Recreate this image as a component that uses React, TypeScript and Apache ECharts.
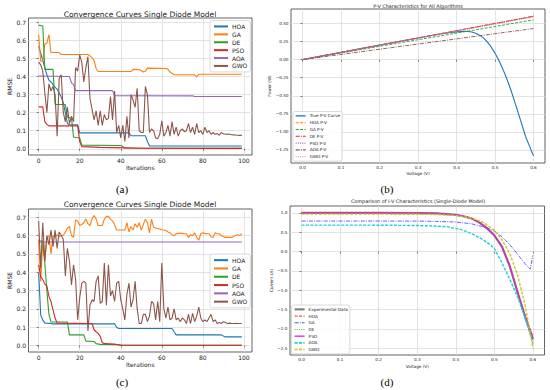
import React, { useEffect, useRef } from 'react';
import * as echarts from 'echarts';

// ---------- tick labels ----------
const ITER_TICKS = [0, 20, 40, 60, 80, 100];
const RMSE_TICKS = [0, 0.1, 0.2, 0.3, 0.4, 0.5, 0.6, 0.7];
const V_TICKS = [0, 0.1, 0.2, 0.3, 0.4, 0.5, 0.6];
const PV_TICKS = [-1.25, -1, -0.75, -0.5, -0.25, 0, 0.25, 0.5];
const IV_TICKS = [-2.5, -2, -1.5, -1, -0.5, 0, 0.5, 1];

const ALGOS = ['HOA', 'GA', 'DE', 'PSO', 'AOA', 'GWO'];
const PV_NAMES = ['True P-V Curve', 'HOA P-V', 'GA P-V', 'DE P-V', 'PSO P-V', 'AOA P-V', 'GWO P-V'];
const IV_NAMES = ['Experimental Data', 'HOA', 'GA', 'DE', 'PSO', 'AOA', 'GWO'];

// ---------- (a) convergence, [iteration, RMSE] ----------
const HOA_A = [[0, 0.567], [1, 0.53], [2, 0.49], [3, 0.45], [4, 0.41], [5, 0.38], [6, 0.37], [7, 0.355], [8, 0.34], [9, 0.33], [10, 0.31], [11, 0.285], [12, 0.255], [13, 0.2], [14, 0.14], [15, 0.133], [19, 0.133], [20, 0.088], [44, 0.088], [45, 0.072], [52, 0.072], [53, 0.04], [54, 0.015], [99, 0.015]];
const GA_A = [[0, 0.632], [1, 0.485], [2, 0.485], [3, 0.58], [4, 0.585], [5, 0.632], [6, 0.533], [10, 0.533], [11, 0.522], [24, 0.522], [25, 0.515], [26, 0.505], [27, 0.49], [28, 0.445], [29, 0.428], [45, 0.428], [46, 0.44], [49, 0.438], [50, 0.432], [51, 0.425], [52, 0.43], [53, 0.447], [62, 0.445], [63, 0.44], [64, 0.425], [66, 0.41], [76, 0.41], [77, 0.398], [78, 0.413], [99, 0.413]];
const DE_A = [[0, 0.685], [2, 0.68], [3, 0.44], [7, 0.44], [8, 0.245], [13, 0.245], [14, 0.175], [16, 0.17], [17, 0.065], [20, 0.06], [21, 0.02], [40, 0.018], [41, 0.012], [42, 0.004], [99, 0.003]];
const PSO_A = [[0, 0.232], [2, 0.232], [3, 0.15], [4, 0.135], [5, 0.127], [19, 0.127], [20, 0.04], [21, 0.012], [30, 0.008], [42, 0.005], [50, 0.003], [99, 0.002]];
const AOA_A = [[0, 0.403], [15, 0.4], [16, 0.365], [17, 0.355], [18, 0.322], [36, 0.322], [37, 0.294], [75, 0.293], [76, 0.29], [99, 0.29]];
const GWO_A = [
  0.48, 0.465, 0.43, 0.31, 0.2, 0.36, 0.32, 0.345, 0.3, 0.07,
  0.39, 0.41, 0.2, 0.15, 0.23, 0.14, 0.18, 0.15, 0.45, 0.43,
  0.52, 0.48, 0.37, 0.45, 0.51, 0.28, 0.22, 0.16, 0.21, 0.13,
  0.21, 0.13, 0.19, 0.16, 0.17, 0.29, 0.16, 0.32, 0.09, 0.13,
  0.06, 0.13, 0.04, 0.18, 0.06, 0.3, 0.27, 0.23, 0.335, 0.1,
  0.09, 0.09, 0.345, 0.3, 0.09, 0.11, 0.1, 0.06, 0.055, 0.08,
  0.155, 0.07, 0.09, 0.13, 0.07, 0.15, 0.08, 0.12, 0.07, 0.1,
  0.11, 0.095, 0.1, 0.14, 0.09, 0.12, 0.08, 0.14, 0.09, 0.1,
  0.08, 0.12, 0.09, 0.1, 0.08, 0.09, 0.08, 0.085, 0.075, 0.09,
  0.083, 0.08, 0.082, 0.08, 0.078, 0.077, 0.076, 0.075, 0.074, 0.074,
];

// ---------- (c) convergence ----------
const HOA_C = [[0, 0.396], [1, 0.165], [2, 0.14], [3, 0.122], [6, 0.12], [7, 0.118], [37, 0.118], [38, 0.1], [39, 0.093], [65, 0.093], [66, 0.075], [67, 0.058], [89, 0.058], [90, 0.052], [91, 0.047], [99, 0.047]];
const GA_C = [
  0.578, 0.35, 0.56, 0.46, 0.59, 0.6, 0.5, 0.6, 0.59, 0.605,
  0.595, 0.6, 0.6, 0.62, 0.64, 0.65, 0.6, 0.59, 0.685, 0.68,
  0.655, 0.66, 0.67, 0.69, 0.665, 0.655, 0.69, 0.71, 0.69, 0.655,
  0.655, 0.655, 0.69, 0.705, 0.705, 0.69, 0.68, 0.66, 0.63, 0.63,
  0.63, 0.63, 0.63, 0.67, 0.62, 0.65, 0.63, 0.665, 0.645, 0.67,
  0.63, 0.66, 0.69, 0.67, 0.615, 0.69, 0.645, 0.64, 0.64, 0.635,
  0.632, 0.63, 0.628, 0.62, 0.615, 0.605, 0.6, 0.61, 0.612, 0.612,
  0.612, 0.61, 0.61, 0.59, 0.605, 0.6, 0.615, 0.59, 0.575, 0.61,
  0.615, 0.612, 0.61, 0.61, 0.595, 0.59, 0.615, 0.61, 0.61, 0.6,
  0.595, 0.59, 0.59, 0.59, 0.59, 0.595, 0.6, 0.605, 0.6, 0.61,
];
const DE_C = [[0, 0.57], [2, 0.57], [3, 0.45], [4, 0.3], [5, 0.17], [6, 0.128], [14, 0.128], [15, 0.058], [22, 0.058], [23, 0.024], [27, 0.022], [28, 0.01], [30, 0.006], [38, 0.005], [40, 0.002], [99, 0.001]];
const PSO_C = [[0, 0.44], [1, 0.375], [2, 0.36], [3, 0.335], [4, 0.325], [5, 0.268], [6, 0.24], [7, 0.195], [8, 0.15], [9, 0.122], [26, 0.12], [27, 0.086], [28, 0.075], [29, 0.066], [30, 0.05], [31, 0.015], [32, 0.01], [37, 0.008], [38, 0.005], [40, 0.002], [99, 0.001]];
const AOA_C = [[0, 0.565], [99, 0.565]];
const GWO_C = [
  0.68, 0.42, 0.67, 0.46, 0.6, 0.55, 0.63, 0.54, 0.63, 0.53,
  0.62, 0.6, 0.58, 0.38, 0.53, 0.46, 0.33, 0.44, 0.36, 0.14,
  0.26, 0.34, 0.35, 0.34, 0.08, 0.22, 0.25, 0.24, 0.35, 0.38,
  0.23, 0.24, 0.45, 0.22, 0.44, 0.27, 0.3, 0.24, 0.34, 0.35,
  0.25, 0.2, 0.14, 0.28, 0.34, 0.21, 0.25, 0.35, 0.2, 0.12,
  0.12, 0.17, 0.17, 0.13, 0.16, 0.24, 0.23, 0.14, 0.24, 0.13,
  0.45, 0.2, 0.15, 0.21, 0.14, 0.15, 0.2, 0.14, 0.15, 0.13,
  0.15, 0.14, 0.12, 0.17, 0.12, 0.175, 0.13, 0.16, 0.21, 0.15,
  0.13, 0.14, 0.13, 0.15, 0.17, 0.13, 0.14, 0.12, 0.125, 0.12,
  0.13, 0.125, 0.12, 0.122, 0.12, 0.12, 0.121, 0.12, 0.12, 0.12,
];

// ---------- (b) P-V, [voltage, power] ----------
const TRUE_PV = [[0, 0], [0.1, 0.1], [0.2, 0.2], [0.3, 0.299], [0.35, 0.347], [0.38, 0.372], [0.4, 0.384], [0.42, 0.39], [0.43, 0.389], [0.44, 0.382], [0.45, 0.365], [0.46, 0.338], [0.47, 0.3], [0.48, 0.245], [0.49, 0.175], [0.5, 0.09], [0.51, -0.01], [0.52, -0.125], [0.53, -0.255], [0.54, -0.4], [0.55, -0.56], [0.56, -0.73], [0.57, -0.9], [0.58, -1.07], [0.59, -1.2], [0.6, -1.33]];
const HOA_PV = [[0, 0], [0.6, 0.6]];
const GA_PV = [[0, 0], [0.6, 0.55]];
const DE_PV = [[0, 0], [0.6, 0.6]];
const PSO_PV = [[0, 0], [0.6, 0.595]];
const AOA_PV = [[0, 0], [0.6, 0.43]];
const GWO_PV = [[0, 0], [0.6, 0.59]];

// ---------- (d) I-V, [voltage, current] ----------
const EXP_IV = [[0, 1.0], [0.1, 1.0], [0.2, 1.0], [0.3, 0.998], [0.35, 0.99], [0.4, 0.95], [0.42, 0.915], [0.44, 0.86], [0.46, 0.76], [0.48, 0.61], [0.5, 0.42], [0.52, 0.12], [0.54, -0.38], [0.56, -1.05], [0.58, -1.7], [0.6, -2.27]];
const HOA_IV = [[0, 1.0], [0.1, 1.0], [0.2, 1.0], [0.3, 0.998], [0.35, 0.99], [0.4, 0.95], [0.42, 0.915], [0.44, 0.86], [0.46, 0.76], [0.48, 0.61], [0.5, 0.42], [0.52, 0.13], [0.54, -0.36], [0.56, -1.02], [0.58, -1.66], [0.6, -2.2]];
const GA_IV = [[0, 0.79], [0.1, 0.79], [0.2, 0.79], [0.3, 0.788], [0.35, 0.782], [0.4, 0.765], [0.44, 0.72], [0.48, 0.62], [0.5, 0.53], [0.52, 0.38], [0.54, 0.18], [0.56, -0.07], [0.58, -0.32], [0.59, -0.43], [0.593, -0.45], [0.6, -0.1]];
const DE_IV = [[0, 1.0], [0.1, 1.0], [0.2, 1.0], [0.3, 0.998], [0.35, 0.99], [0.4, 0.95], [0.42, 0.915], [0.44, 0.86], [0.46, 0.76], [0.48, 0.61], [0.5, 0.42], [0.52, 0.11], [0.54, -0.4], [0.56, -1.07], [0.58, -1.73], [0.6, -2.3]];
const PSO_IV = [[0, 1.005], [0.1, 1.005], [0.2, 1.003], [0.3, 1.0], [0.35, 0.99], [0.4, 0.952], [0.42, 0.915], [0.44, 0.86], [0.46, 0.76], [0.48, 0.61], [0.5, 0.42], [0.52, 0.12], [0.54, -0.38], [0.56, -1.04], [0.58, -1.68], [0.6, -2.25]];
const AOA_IV = [[0, 0.685], [0.1, 0.685], [0.2, 0.683], [0.3, 0.675], [0.35, 0.66], [0.38, 0.635], [0.41, 0.58], [0.43, 0.51], [0.45, 0.42], [0.47, 0.31], [0.49, 0.17], [0.5, 0.08], [0.52, -0.3], [0.54, -0.72], [0.56, -1.17], [0.58, -1.72], [0.6, -2.38]];
const GWO_IV = [[0, 0.97], [0.1, 0.97], [0.2, 0.97], [0.3, 0.965], [0.35, 0.96], [0.4, 0.935], [0.44, 0.87], [0.47, 0.76], [0.5, 0.55], [0.52, 0.3], [0.54, -0.05], [0.56, -0.6], [0.58, -1.4], [0.6, -2.5]];

const FONT = 'DejaVu Sans';
const MINUS = '\u2212';
const fmt = (d: number) => (v: number) => (v < 0 ? MINUS + Math.abs(v).toFixed(d) : v.toFixed(d));

function axis(gridIndex: number, min: number, max: number, ticks: number[], f: any, fs: number, name: string, gap: number) {
  return {
    type: 'value', gridIndex, min, max,
    axisLine: { show: false },
    axisTick: { show: true, length: 2, customValues: ticks, lineStyle: { color: '#333', width: 0.6 } },
    axisLabel: { customValues: ticks, formatter: f, fontSize: fs, color: '#222', margin: 2.5, fontFamily: FONT, showMinLabel: true, showMaxLabel: true },
    splitLine: { show: true, lineStyle: { color: '#dcdcdc', width: 0.8 } },
    name, nameLocation: 'middle', nameGap: gap,
    nameTextStyle: { fontSize: fs, color: '#222', fontFamily: FONT },
  };
}

const DASH = [3, 1.4];
const DASHDOT = [4, 1.2, 1, 1.2];
const DOT = [1, 1.2];

// series style table: name -> [color, width, dash, opacity]
type Sty = [string, number, any, number];
const STY_PV: Record<string, Sty> = {
  'True P-V Curve': ['#1f77b4', 1.1, 'solid', 1],
  'HOA P-V': ['#ff7f0e', 0.9, DASH, 1],
  'GA P-V': ['#2ca02c', 0.9, DASH, 1],
  'DE P-V': ['#d62728', 0.9, DASHDOT, 1],
  'PSO P-V': ['#9467bd', 0.9, DOT, 1],
  'AOA P-V': ['#8c564b', 0.9, DASHDOT, 1],
  'GWO P-V': ['#e377c2', 0.9, DOT, 1],
};
const STY_IV: Record<string, Sty> = {
  'Experimental Data': ['#666666', 2.2, 'solid', 0.8],
  HOA: ['#ff3030', 1, DASH, 0.8],
  GA: ['#3030ff', 0.9, DASHDOT, 0.85],
  DE: ['#30a030', 0.9, DOT, 0.8],
  PSO: ['#e020d0', 1.1, 'solid', 1],
  AOA: ['#20d0d0', 1.4, DASH, 1],
  GWO: ['#c8c820', 1.4, DASH, 1],
};

function line(name: string, data: any[], idx: number, color: string, width: number, type: any, opacity = 1) {
  return {
    type: 'line', name, data, xAxisIndex: idx, yAxisIndex: idx,
    symbol: 'none', showSymbol: false, silent: true,
    lineStyle: { color, width, type, opacity },
    itemStyle: { color, opacity },
    emphasis: { disabled: true },
  };
}

function legend(names: any[], left: number, top: number, fs: number, lh: number, iw: number, pad: number[], strip?: string) {
  return {
    data: names, orient: 'vertical', left, top, padding: pad,
    itemWidth: iw, itemHeight: lh, itemGap: 0, selectedMode: false,
    itemStyle: { color: 'rgba(0,0,0,0)', opacity: 0, borderWidth: 0 },
    textStyle: { fontSize: fs, lineHeight: lh, color: '#222', fontFamily: FONT, padding: [0, 0, 0, -1] },
    formatter: strip ? (n: string) => n.replace(strip, '') : undefined,
    backgroundColor: 'rgba(255,255,255,0.85)', borderColor: '#d0d0d0', borderWidth: 0.8, borderRadius: 2,
  };
}

function txt(text: string, x: number, y: number, fs: number, family = FONT, color = '#222') {
  return {
    type: 'text', x, y, silent: true,
    style: { text, fontSize: fs, fontFamily: family, fill: color, align: 'center', verticalAlign: 'middle', textAlign: 'center', textVerticalAlign: 'middle' },
  };
}

export default function App() {
  const ref = useRef<HTMLDivElement>(null);
  useEffect(() => {
    if (!ref.current) return;
    const chart = echarts.init(ref.current, undefined, { renderer: 'svg' });
    const idx = (arr: number[]) => arr.map((v, i) => [i, v]);
    const legItem = (name: string, s: Sty, prefix = '') => ({
      name: prefix + name,
      lineStyle: { color: s[0], width: Math.min(s[1] + 0.2, 2.2), type: s[2], opacity: s[3] },
    });
    const pvLine = (name: string, data: any[]) => { const s = STY_PV[name]; return line(name, data, 1, s[0], s[1], s[2], s[3]); };
    const ivLine = (name: string, data: any[]) => { const s = STY_IV[name]; return line(name === 'Experimental Data' ? name : 'd:' + name, data, 3, s[0], s[1], s[2], s[3]); };
    const gridBase = { show: true, borderColor: '#3a3a3a', borderWidth: 0.8, backgroundColor: '#fff', containLabel: false, outerBoundsMode: 'none' };
    const option: any = {
      animation: false,
      backgroundColor: '#fff',
      grid: [
        { ...gridBase, left: 28.5, top: 18, width: 223.5, height: 137 },
        { ...gridBase, left: 291, top: 9, width: 254, height: 154 },
        { ...gridBase, left: 28.5, top: 209, width: 223.5, height: 143 },
        { ...gridBase, left: 290, top: 206, width: 254.5, height: 149 },
      ],
      xAxis: [
        axis(0, -4.95, 103.95, ITER_TICKS, (v: number) => String(v), 6, 'Iterations', 9),
        axis(1, -0.03, 0.63, V_TICKS, fmt(1), 4.2, 'Voltage (V)', 8),
        axis(2, -4.95, 103.95, ITER_TICKS, (v: number) => String(v), 6, 'Iterations', 9),
        axis(3, -0.03, 0.63, V_TICKS, fmt(1), 4.2, 'Voltage (V)', 9),
      ],
      yAxis: [
        axis(0, -0.0345, 0.7245, RMSE_TICKS, fmt(1), 6, 'RMSE', 15),
        axis(1, -1.43, 0.70, PV_TICKS, fmt(2), 4.2, 'Power (W)', 16),
        axis(2, -0.0355, 0.745, RMSE_TICKS, fmt(1), 6, 'RMSE', 15),
        axis(3, -2.68, 1.18, IV_TICKS, fmt(1), 4.2, 'Current (A)', 13),
      ],
      legend: [
        legend(ALGOS, 210, 20.5, 6, 7.9, 14, [2, 3, 2, 3]),
        legend(PV_NAMES.map((n) => legItem(n, STY_PV[n])), 293, 111.5, 4.2, 6.8, 10, [1, 2, 1, 2]),
        legend(ALGOS.map((n) => 'c:' + n), 210, 254, 6, 8.3, 14, [2, 3, 2, 3], 'c:'),
        legend(IV_NAMES.map((n) => legItem(n, STY_IV[n], n === 'Experimental Data' ? '' : 'd:')), 291.5, 305, 4.2, 6.7, 10, [1, 2, 1, 2], 'd:'),
      ],
      series: [
        line('HOA', HOA_A, 0, '#1f77b4', 1.1, 'solid'),
        line('GA', GA_A, 0, '#ff7f0e', 1.1, 'solid'),
        line('DE', DE_A, 0, '#2ca02c', 1.1, 'solid'),
        line('PSO', PSO_A, 0, '#d62728', 1.1, 'solid'),
        line('AOA', AOA_A, 0, '#9467bd', 1.1, 'solid'),
        line('GWO', idx(GWO_A), 0, '#8c564b', 1.1, 'solid'),

        pvLine('True P-V Curve', TRUE_PV),
        pvLine('HOA P-V', HOA_PV),
        pvLine('GA P-V', GA_PV),
        pvLine('DE P-V', DE_PV),
        pvLine('PSO P-V', PSO_PV),
        pvLine('AOA P-V', AOA_PV),
        pvLine('GWO P-V', GWO_PV),

        line('c:HOA', HOA_C, 2, '#1f77b4', 1.1, 'solid'),
        line('c:GA', idx(GA_C), 2, '#ff7f0e', 1.1, 'solid'),
        line('c:DE', DE_C, 2, '#2ca02c', 1.1, 'solid'),
        line('c:PSO', PSO_C, 2, '#d62728', 1.1, 'solid'),
        line('c:AOA', AOA_C, 2, '#9467bd', 1.1, 'solid'),
        line('c:GWO', idx(GWO_C), 2, '#8c564b', 1.1, 'solid'),

        ivLine('Experimental Data', EXP_IV),
        ivLine('HOA', HOA_IV),
        ivLine('GA', GA_IV),
        ivLine('DE', DE_IV),
        ivLine('PSO', PSO_IV),
        ivLine('AOA', AOA_IV),
        ivLine('GWO', GWO_IV),
      ],
      graphic: [
        txt('Convergence Curves Single Diode Model', 140, 14, 7.5),
        txt('P-V Characteristics for All Algorithms', 418, 5.5, 4.9),
        txt('Convergence Curves Single Diode Model', 140, 204, 7.5),
        txt('Comparison of I-V Characteristics (Single-Diode Model)', 418, 201, 4.9),
        txt('(a)', 122, 189, 11, 'Liberation Serif', '#000'),
        txt('(b)', 387, 189, 11, 'Liberation Serif', '#000'),
        txt('(c)', 122, 382, 11, 'Liberation Serif', '#000'),
        txt('(d)', 387, 382, 11, 'Liberation Serif', '#000'),
      ],
    };
    chart.setOption(option);
    return () => chart.dispose();
  }, []);
  return <div ref={ref} style={{ position: 'absolute', left: 0, top: 0, width: 550, height: 390, background: '#fff' }} />;
}
